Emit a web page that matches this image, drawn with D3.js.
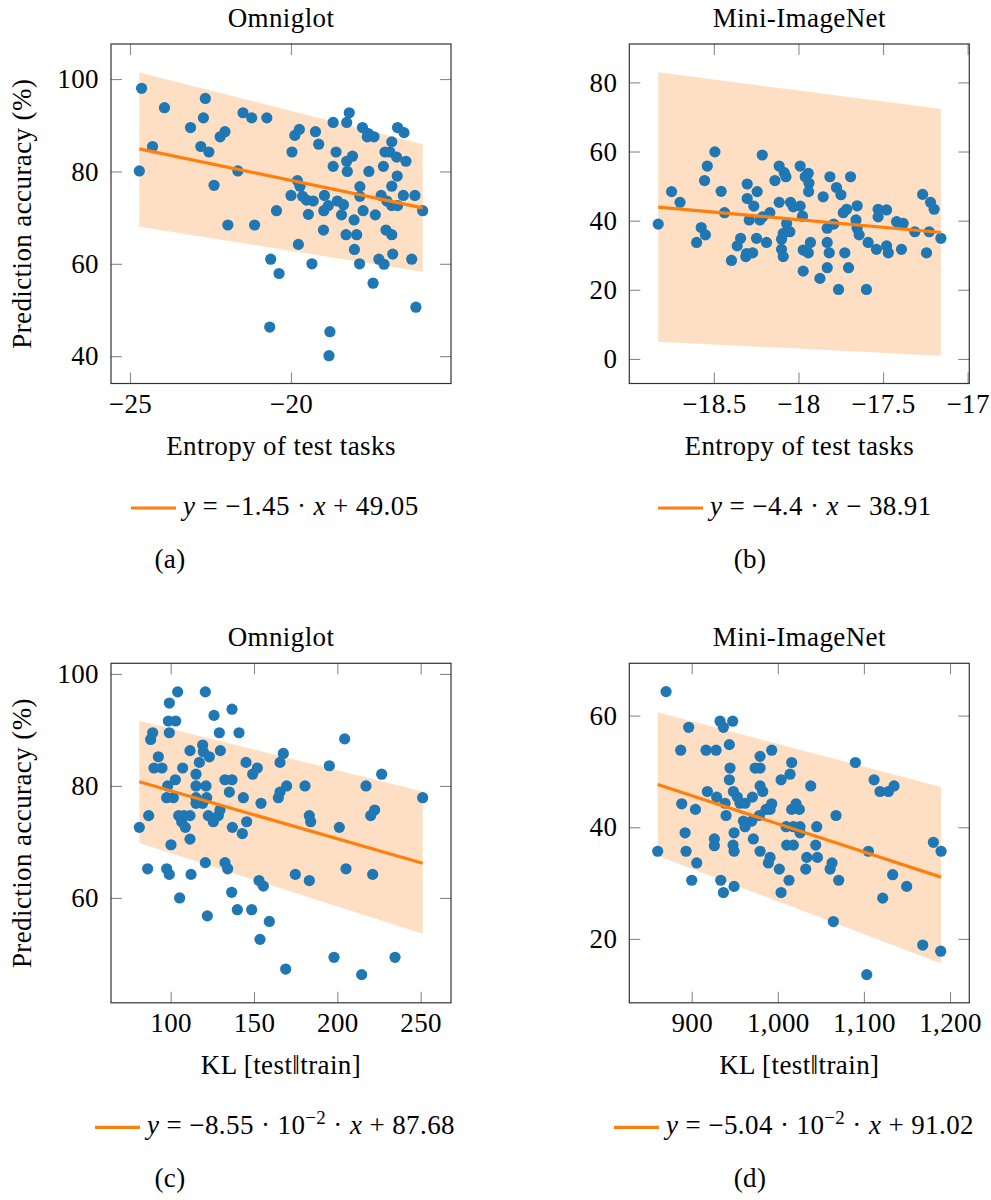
<!DOCTYPE html>
<html>
<head>
<meta charset="utf-8">
<script src="https://cdn.jsdelivr.net/npm/d3@7"></script>
<style>
  body { margin: 0; background: #fff; }
  svg { display: block; letter-spacing: 0.4px; }
  svg text { font-family: "Liberation Serif", "DejaVu Serif", serif; }
</style>
</head>
<body>
<svg id="fig" width="991" height="1200"></svg>
<script>
// prediction accuracy (%) per test task, [x, accuracy]
const entropyOmniglot = [
  [-24.64,98.0],[-23.93,93.8],[-22.66,95.8],[-22.72,91.6],[-23.12,89.5],[-24.30,85.4],[-24.71,80.1],
  [-22.80,85.4],[-22.55,84.2],[-22.20,87.5],[-22.05,88.6],[-21.49,92.7],[-21.22,91.6],[-20.75,91.6],
  [-22.39,77.0],[-21.65,80.1],[-21.96,68.4],[-21.13,68.4],[-19.97,84.2],[-19.88,87.8],[-19.74,89.1],
  [-19.80,78.0],[-19.72,76.8],[-19.24,88.6],[-19.14,85.9],[-20.00,74.8],[-19.64,74.6],[-19.52,73.8],
  [-19.31,73.6],[-20.45,71.5],[-19.46,70.7],[-18.96,74.8],[-18.98,71.5],[-18.84,72.6],[-18.69,90.6],
  [-18.27,90.6],[-18.19,92.7],[-18.60,84.2],[-18.69,81.1],[-18.25,80.0],[-18.27,82.2],[-18.09,83.3],
  [-18.56,73.6],[-18.37,72.8],[-18.43,70.6],[-18.04,69.5],[-17.86,76.7],[-17.86,74.6],[-17.76,71.5],
  [-17.78,89.5],[-17.60,88.2],[-17.63,87.5],[-17.42,87.5],[-17.58,80.0],[-17.38,70.6],[-17.13,81.1],
  [-17.08,84.2],[-16.87,86.4],[-16.93,84.2],[-16.72,83.1],[-16.69,89.5],[-16.49,88.4],[-16.43,82.2],
  [-16.70,79.0],[-16.87,76.8],[-17.20,74.8],[-17.02,73.6],[-16.87,72.6],[-16.69,72.6],[-16.51,74.8],
  [-16.15,74.8],[-15.91,71.5],[-17.05,67.3],[-18.99,67.3],[-18.29,66.3],[-17.96,66.3],[-16.87,66.3],
  [-19.77,64.2],[-18.03,63.1],[-16.84,62.1],[-17.27,61.0],[-17.11,59.9],[-16.25,61.0],[-20.63,61.0],
  [-20.37,57.9],[-19.35,60.0],[-17.87,60.0],[-17.45,55.8],[-16.12,50.6],[-20.66,46.3],[-18.79,45.3],
  [-18.82,40.1]
];

const entropyMini = [
  [-18.494,59.9],[-18.539,55.8],[-18.555,51.6],[-18.75,48.4],[-18.70,45.3],[-18.457,48.5],[-18.437,42.3],
  [-18.829,39.0],[-18.214,59.0],[-18.303,50.6],[-18.244,48.4],[-18.303,46.4],[-18.264,44.2],[-18.114,55.8],
  [-18.084,53.9],[-18.074,52.7],[-18.139,51.6],[-17.99,55.8],[-17.942,53.7],[-17.96,52.7],[-17.938,50.8],
  [-17.94,48.4],[-18.114,45.3],[-18.047,45.3],[-18.031,44.0],[-17.99,44.2],[-17.976,41.3],[-18.169,42.3],
  [-18.212,41.1],[-18.228,40.2],[-18.291,40.2],[-17.854,46.9],[-17.814,52.7],[-17.775,49.6],[-17.749,47.5],
  [-17.692,52.7],[-17.735,42.3],[-17.715,43.3],[-17.653,44.3],[-17.66,40.2],[-17.529,43.3],[-17.479,43.1],
  [-17.529,41.1],[-17.42,39.7],[-17.381,39.2],[-17.266,47.6],[-17.219,45.3],[-17.198,43.3],[-17.791,39.0],
  [-18.575,38.0],[-18.07,39.2],[-18.55,35.9],[-18.602,33.7],[-18.396,28.5],[-18.342,34.9],[-18.362,32.7],
  [-18.307,30.5],[-18.271,30.7],[-18.311,29.6],[-18.248,34.9],[-18.189,33.7],[-18.10,34.6],[-18.10,31.7],
  [-18.09,29.6],[-18.051,36.8],[-18.09,36.3],[-17.972,31.5],[-17.942,30.7],[-17.929,33.7],[-17.972,25.4],
  [-17.873,23.3],[-17.83,26.4],[-17.83,33.7],[-17.818,30.7],[-17.83,37.8],[-17.726,30.7],[-17.704,26.4],
  [-17.763,20.1],[-17.598,20.1],[-17.653,37.8],[-17.641,35.9],[-17.588,33.7],[-17.539,31.7],[-17.479,32.7],
  [-17.469,30.7],[-17.391,31.7],[-17.312,36.8],[-17.227,36.8],[-17.243,30.7],[-17.158,34.9]
];

const klOmniglot = [
  [104.2,96.8],[120.8,96.8],[99.2,94.8],[126.0,92.6],[136.8,93.7],[98.6,91.6],[103.0,91.6],[89.2,89.5],
  [88.0,88.3],[99.2,89.5],[129.2,89.5],[141.0,89.5],[204.4,88.4],[111.6,86.3],[119.2,87.3],[119.6,86.1],
  [123.2,85.2],[117.2,84.2],[129.8,86.3],[92.6,85.2],[90.0,83.2],[94.8,83.2],[107.2,83.2],[115.2,82.1],
  [102.8,81.1],[98.2,80.0],[115.2,80.0],[121.2,80.0],[132.6,81.1],[136.8,81.1],[145.2,84.2],[149.2,82.1],
  [152.0,83.2],[167.6,85.8],[165.6,84.2],[195.2,83.6],[226.6,82.1],[217.2,80.0],[251.2,77.9],[180.6,80.0],
  [169.6,80.0],[165.6,78.9],[164.6,77.9],[97.6,77.9],[101.6,77.9],[115.2,77.9],[121.6,77.9],[115.2,76.9],
  [119.2,76.9],[135.2,78.9],[143.6,77.9],[154.2,76.9],[86.8,74.7],[81.2,72.6],[104.8,74.7],[108.0,74.7],
  [111.6,74.7],[106.6,73.6],[108.8,72.6],[122.6,74.7],[125.6,73.6],[128.6,74.7],[129.6,75.7],[137.0,72.6],
  [145.6,73.6],[143.0,71.5],[183.2,74.7],[184.0,73.6],[201.2,72.6],[220.0,74.7],[222.4,75.7],[111.6,70.5],
  [100.2,69.5],[86.2,65.2],[97.6,65.2],[99.2,64.2],[112.2,64.2],[120.8,66.3],[132.6,66.3],[134.2,65.2],
  [105.4,60.0],[136.6,61.0],[122.0,56.8],[140.0,57.9],[148.6,57.9],[153.0,63.1],[155.6,62.1],[159.2,55.8],
  [153.6,52.6],[174.8,64.2],[183.2,63.1],[205.2,65.2],[221.2,64.2],[169.0,47.3],[198.0,49.4],[214.6,46.3],
  [234.6,49.4]
];

const klMini = [
  [870.2,64.3],[896.5,57.9],[932.9,59.0],[947.6,59.0],[936.8,57.9],[887.2,53.8],[916.6,53.8],[928.3,53.8],
  [943.7,54.8],[992.9,53.8],[979.4,52.7],[944.5,50.6],[973.6,50.6],[979.4,50.6],[1016.1,51.6],[943.7,48.5],
  [1003.8,48.5],[1014.2,49.5],[1090.1,51.6],[1111.8,48.5],[1118.7,46.4],[1128.4,46.4],[1135.0,47.4],
  [1038.2,47.4],[979.4,47.4],[982.5,46.4],[918.2,46.4],[929.0,45.4],[948.4,46.4],[953.0,45.4],[938.7,44.3],
  [970.5,45.4],[956.1,44.3],[961.9,44.3],[888.4,44.2],[904.3,43.2],[939.9,42.1],[992.9,44.2],[991.0,43.2],
  [986.3,43.2],[978.6,42.1],[1021.2,44.2],[1016.1,43.2],[1025.0,43.2],[1067.6,42.1],[960.0,41.1],[969.7,41.1],
  [961.9,40.1],[1009.6,40.1],[1018.1,40.1],[1025.8,40.1],[1045.2,40.1],[1025.8,39.0],[892.3,39.0],[926.3,37.9],
  [949.2,39.0],[1180.7,37.3],[860.5,35.7],[893.4,35.7],[905.8,33.6],[900.0,30.5],[926.3,36.7],[933.7,30.5],
  [936.8,28.3],[948.0,36.8],[949.2,35.7],[949.2,29.4],[971.6,37.9],[979.4,35.7],[991.0,34.6],[989.0,33.6],
  [1001.8,32.5],[1013.0,30.5],[1003.8,28.3],[1010.3,36.8],[1018.1,36.8],[1044.0,36.8],[1033.6,34.6],
  [1046.0,34.6],[1032.4,32.5],[1063.0,33.6],[1060.7,32.5],[1070.7,30.5],[1064.5,23.1],[1105.2,35.7],
  [1133.4,31.5],[1149.7,29.4],[1121.8,27.3],[1103.3,13.6],[1168.3,18.9],[1189.2,17.8],[1189.6,35.7]
];

// linear fits
const fitEntropyOmniglot = {slope: -1.45, intercept: 49.05};
const fitEntropyMini = {slope: -4.4, intercept: -38.91};
const fitKlOmniglot = {slope: -8.55e-2, intercept: 87.68};
const fitKlMini = {slope: -5.04e-2, intercept: 91.02};

// confidence band, [lower, upper] at the smallest and largest x
const bandEntropyOmniglot = [[68.0, 101.4], [58.3, 85.9]];
const bandEntropyMini = [[5.0, 82.9], [0.95, 72.3]];
const bandKlOmniglot = [[69.8, 91.6], [53.6, 79.0]];
const bandKlMini = [[34.9, 60.6], [15.6, 47.2]];

// ticks
const xTicksEntropyOmniglot = [-25, -20];
const yTicksEntropyOmniglot = [40, 60, 80, 100];
const xTicksEntropyMini = [-18.5, -18, -17.5, -17];
const yTicksEntropyMini = [0, 20, 40, 60, 80];
const xTicksKlOmniglot = [100, 150, 200, 250];
const yTicksKlOmniglot = [60, 80, 100];
const xTicksKlMini = [900, 1000, 1100, 1200];
const yTicksKlMini = [20, 40, 60];

const W = 340, H = 339.5, FS = 27;
const SERIF = '"Liberation Serif", "DejaVu Serif", serif';
const BLUE = "#1f77b4", ORANGE = "#ff7f0e";
const minus = s => String(s).replace("-", "\u2212");
const plain = v => minus(v);
const thousands = v => minus(d3.format(",")(v));

const panels = [
  {data: entropyOmniglot, fit: fitEntropyOmniglot, band: bandEntropyOmniglot,
   xTicks: xTicksEntropyOmniglot, yTicks: yTicksEntropyOmniglot, xFmt: plain,
   xDomain: [-25.59, -15.03], yDomain: [34.08, 107.59],
   left: 111, top: 44, title: "Omniglot", xLabel: "Entropy of test tasks", yLabel: true,
   legendX: 131, caption: "(a)", captionX: 170},
  {data: entropyMini, fit: fitEntropyMini, band: bandEntropyMini,
   xTicks: xTicksEntropyMini, yTicks: yTicksEntropyMini, xFmt: plain,
   xDomain: [-19.0, -16.99], yDomain: [-7.1, 91.1],
   left: 629.3, top: 44, title: "Mini-ImageNet", xLabel: "Entropy of test tasks", yLabel: false,
   legendX: 658, caption: "(b)", captionX: 750},
  {data: klOmniglot, fit: fitKlOmniglot, band: bandKlOmniglot,
   xTicks: xTicksKlOmniglot, yTicks: yTicksKlOmniglot, xFmt: plain,
   xDomain: [64.2, 268.2], yDomain: [41.27, 101.9],
   left: 111, top: 663.3, title: "Omniglot", xLabel: "KL [test\u2016train]", yLabel: true,
   legendX: 95, caption: "(c)", captionX: 170},
  {data: klMini, fit: fitKlMini, band: bandKlMini,
   xTicks: xTicksKlMini, yTicks: yTicksKlMini, xFmt: thousands,
   xDomain: [827.5, 1222.4], yDomain: [8.55, 69.37],
   left: 629.3, top: 663.3, title: "Mini-ImageNet", xLabel: "KL [test\u2016train]", yLabel: false,
   legendX: 614, caption: "(d)", captionX: 750}
];

const svg = d3.select("#fig");

function legendText(sel, fit) {
  const e = Math.floor(Math.log10(Math.abs(fit.slope)));
  sel.append("tspan").attr("font-style", "italic").text("y");
  if (e < -1) {
    const m = +(fit.slope / Math.pow(10, e)).toFixed(2);
    sel.append("tspan").text(" = " + minus(m) + " \u00b7 10");
    sel.append("tspan").attr("font-size", FS * 0.7).attr("dy", -10).text(minus(e));
    sel.append("tspan").attr("dy", 10).text(" \u00b7 ");
  } else {
    sel.append("tspan").text(" = " + minus(fit.slope) + " \u00b7 ");
  }
  sel.append("tspan").attr("font-style", "italic").text("x");
  const b = fit.intercept;
  sel.append("tspan").text((b < 0 ? " \u2212 " : " + ") + Math.abs(b).toFixed(2));
}

function drawPanel(p) {
  const x = d3.scaleLinear().domain(p.xDomain).range([p.left, p.left + W]);
  const y = d3.scaleLinear().domain(p.yDomain).range([p.top + H, p.top]);
  const g = svg.append("g");
  const [xa, xb] = d3.extent(p.data, d => d[0]);

  // band between the two fitted bounds
  const area = d3.area().x(d => x(d[0])).y0(d => y(d[1])).y1(d => y(d[2]));
  g.append("path")
    .attr("d", area([[xa, p.band[0][0], p.band[0][1]], [xb, p.band[1][0], p.band[1][1]]]))
    .attr("fill", ORANGE).attr("fill-opacity", 0.25);

  g.append("g").selectAll("circle")
    .data(p.data)
    .join("circle")
    .attr("cx", d => x(d[0]))
    .attr("cy", d => y(d[1]))
    .attr("r", 5.6)
    .attr("fill", BLUE);

  const f = v => p.fit.slope * v + p.fit.intercept;
  g.append("line")
    .attr("x1", x(xa)).attr("y1", y(f(xa)))
    .attr("x2", x(xb)).attr("y2", y(f(xb)))
    .attr("stroke", ORANGE).attr("stroke-width", 3.2);

  // inward ticks on all four sides
  const tk = 11;
  const axes = [
    [d3.axisBottom(x).tickValues(p.xTicks).tickSize(-tk).tickFormat(p.xFmt), `translate(0,${p.top + H})`],
    [d3.axisTop(x).tickValues(p.xTicks).tickSize(-tk).tickFormat(""), `translate(0,${p.top})`],
    [d3.axisLeft(y).tickValues(p.yTicks).tickSize(-tk), `translate(${p.left},0)`],
    [d3.axisRight(y).tickValues(p.yTicks).tickSize(-tk).tickFormat(""), `translate(${p.left + W},0)`]
  ];
  axes.forEach(([ax, tr], i) => {
    const a = g.append("g").attr("transform", tr).call(ax);
    a.attr("font-family", SERIF).attr("font-size", FS);
    a.select(".domain").remove();
    a.selectAll(".tick line").attr("stroke", "#8a8a8a").attr("stroke-width", 1.1);
    a.selectAll("text").attr("fill", "#000").style("font-family", SERIF).style("font-size", FS + "px");
    if (i === 0) a.selectAll("text").attr("y", 29).attr("dy", null);
    if (i === 2) a.selectAll("text").attr("x", -12).attr("dy", "0.32em");
  });

  g.append("rect")
    .attr("x", p.left).attr("y", p.top).attr("width", W).attr("height", H)
    .attr("fill", "none").attr("stroke", "#333").attr("stroke-width", 1.2);

  const cx = p.left + W / 2;
  const txt = (tx, ty, s) => g.append("text")
    .attr("x", tx).attr("y", ty).attr("font-size", FS).attr("text-anchor", "middle").text(s);

  txt(cx, p.top - 17, p.title);
  txt(cx, p.top + H + 71, p.xLabel);
  txt(p.captionX, p.top + H + 184, p.caption);

  if (p.yLabel) {
    g.append("text")
      .attr("transform", `translate(31,${p.top + H / 2}) rotate(-90)`)
      .attr("font-size", FS).attr("text-anchor", "middle")
      .text("Prediction accuracy (%)");
  }

  const ly = p.top + H + 124.5;
  g.append("line")
    .attr("x1", p.legendX).attr("x2", p.legendX + 45)
    .attr("y1", ly).attr("y2", ly)
    .attr("stroke", ORANGE).attr("stroke-width", 3.2);
  g.append("text")
    .attr("x", p.legendX + 52).attr("y", ly + 7)
    .attr("font-size", FS)
    .call(legendText, p.fit);
}

panels.forEach(drawPanel);
</script>
</body>
</html>
